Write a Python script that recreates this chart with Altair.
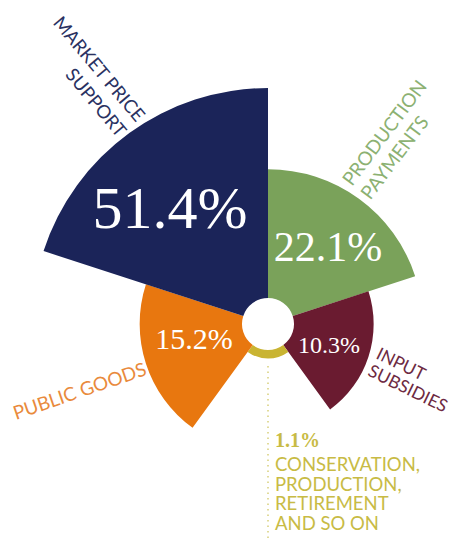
import altair as alt
import pandas as pd

# ---- data ----
categories = ["Production payments", "Input subsidies",
              "Conservation, production retirement and so on",
              "Public goods", "Market price support"]
values = [22.1, 10.3, 1.1, 15.2, 51.4]
colors = ["#7aa25a", "#6a1b30", "#c9b432", "#e8770f", "#1b2459"]
order = [0, 1, 2, 3, 4]

df = pd.DataFrame({"cat": categories, "value": values, "idx": order})

CX, CY = 268, 324
serif = "Liberation Serif"
sans = "Lato"

arcs = alt.Chart(df).transform_calculate(
    start="datum.idx", end="datum.idx + 1"
).mark_arc(innerRadius=26, strokeWidth=0).encode(
    theta=alt.Theta("start:Q", scale=alt.Scale(domain=[0, 5], range=[0, 6.283185307])),
    theta2="end:Q",
    radius=alt.Radius("value:Q", scale=alt.Scale(type="sqrt", zero=True, range=[0, 236])),
    color=alt.Color("cat:N", scale=alt.Scale(domain=categories, range=colors), legend=None),
    x=alt.value(CX), y=alt.value(CY),
)

one = pd.DataFrame({"k": [0]})

def pct(v):
    return f"{v:.1f}%"

def label(text, x, y, size, color, font, align="center", angle=0, weight="normal", lh=None, baseline="alphabetic"):
    kw = dict(align=align, baseline=baseline, fontSize=size, font=font, color=color,
              fontWeight=weight)
    if angle:
        kw["angle"] = angle
    if lh:
        kw["lineHeight"] = lh
    return alt.Chart(one).mark_text(**kw).encode(
        x=alt.value(x), y=alt.value(y), text=alt.value(text))

layers = [arcs]

dots = alt.Chart(one).mark_rule(color="#d8cf7a", strokeWidth=1.5, strokeDash=[1.5, 4]).encode(
    x=alt.value(CX), y=alt.value(366), y2=alt.value(540))
layers.append(dots)

# percent labels
layers.append(label(pct(values[4]), 170, 228, 60, "white", serif))
layers.append(label(pct(values[0]), 328, 261, 42, "white", serif))
layers.append(label(pct(values[3]), 194, 349, 30, "white", serif))
layers.append(label(pct(values[1]), 329, 353, 24, "white", serif))
layers.append(label(pct(values[2]), 275, 447, 20, "#c8bb45", serif, align="left", weight="bold"))

# category labels
W = "normal"
layers.append(label(["MARKET PRICE", "SUPPORT"], 136, 123, 18.5, "#2a3262", sans,
                    align="right", angle=50, lh=24, weight=W))
layers.append(label(["PRODUCTION", "PAYMENTS"], 352, 187, 19, "#8cb172", sans,
                    align="left", angle=307, lh=23, weight=W))
layers.append(label("PUBLIC GOODS", 16, 420, 19, "#e98a3c", sans, align="left", angle=341, weight=W))
layers.append(label(["INPUT", "SUBSIDIES"], 375, 358, 17.5, "#6d2a42", sans,
                    align="left", angle=26, lh=19, weight=W))
layers.append(label(["CONSERVATION,", "PRODUCTION,", "RETIREMENT", "AND SO ON"], 275, 471, 18.5,
                    "#c8bb45", sans, align="left", lh=19.5, weight=W))

chart = alt.layer(*layers).properties(
    width=450, height=540, padding=0, autosize=alt.AutoSizeParams(type="none"),
    background="white",
).configure_view(stroke=None)

chart.save("out.html", embed_options={"renderer": "svg", "actions": False})
